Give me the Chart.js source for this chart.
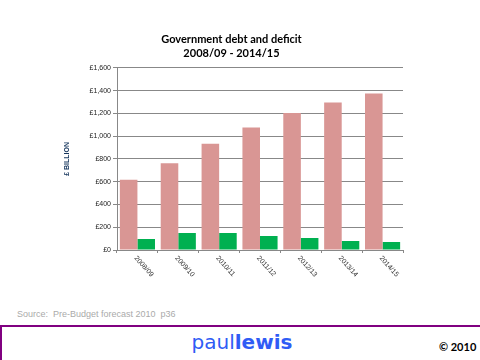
<!DOCTYPE html>
<html>
<head>
<meta charset="utf-8">
<script src="https://cdn.jsdelivr.net/npm/chart.js@4.4.1/dist/chart.umd.min.js"></script>
<style>
  body { margin: 0; width: 480px; height: 360px; position: relative; background: #fff; overflow: hidden; }
  #wrap { position: absolute; left: 0; top: 0; width: 480px; height: 300px; }
  #source { position: absolute; left: 17px; top: 309px; font: 9px "Liberation Sans", Arial, sans-serif; color: #aaa; white-space: pre; }
  #footer { position: absolute; left: 0; top: 325px; width: 480px; height: 40px; border-top: 2px solid #800080; border-left: 2px solid #800080; box-sizing: border-box; }
  #brand { position: absolute; left: 0; width: 480px; top: 3px; text-align: center; font: 20px "DejaVu Sans", Verdana, sans-serif; color: #2f5cf5; }
  #brand b { font-weight: bold; }
  #copy { position: absolute; left: 437px; top: 13px; font: bold 11px Lato, sans-serif; color: #000; }
</style>
</head>
<body>
<div id="wrap"><canvas id="myChart" width="480" height="300"></canvas></div>
<div id="source">Source:  Pre-Budget forecast 2010  p36</div>
<div id="footer">
  <div id="brand">paul<b>lewis</b></div>
  <div id="copy">© 2010</div>
</div>
<script>
//Chart data
const years = ["2008/09", "2009/10", "2010/11", "2011/12", "2012/13", "2013/14", "2014/15"];
const debt = [617, 763, 934, 1075, 1204, 1295, 1374];
const deficit = [97, 150, 150, 123, 106, 79, 70];
const yTicks = [0, 200, 400, 600, 800, 1000, 1200, 1400, 1600];

const ctx = document.getElementById("myChart");

//Draws the slanted year labels under each bar group
const slantLabels = {
  id: "slantLabels",
  afterDraw: function(chart) {
    const xs = chart.scales.x;
    const c = chart.ctx;
    c.save();
    c.font = "7px 'Liberation Sans', Arial, sans-serif";
    c.fillStyle = "#333";
    c.textAlign = "left";
    c.textBaseline = "middle";
    for(let i = 0; i < years.length; i++) {
      c.save();
      c.translate(xs.getPixelForValue(i) - 2, xs.top + 7);
      c.rotate(48 * Math.PI / 180);
      c.fillText(years[i], 0, 0);
      c.restore();
    }
    c.restore();
  }
};

new Chart(ctx, {
  type: "bar",
  data: {
    labels: years,
    datasets: [
      { label: "Debt", data: debt, backgroundColor: "#d99694", categoryPercentage: 0.86, barPercentage: 1.0 },
      { label: "Deficit", data: deficit, backgroundColor: "#00b050", categoryPercentage: 0.86, barPercentage: 1.0 }
    ]
  },
  options: {
    responsive: false,
    animation: false,
    layout: { padding: { left: 60, right: 77, top: 0, bottom: 0 } },
    plugins: {
      legend: { display: false },
      tooltip: { enabled: false },
      title: {
        display: true,
        text: ["Government debt and deficit", "2008/09 - 2014/15"],
        color: "#000",
        font: { family: "Lato", size: 11, weight: "bold", lineHeight: 1.22 },
        padding: { top: 33, bottom: 8 }
      }
    },
    scales: {
      x: {
        grid: { display: true, drawOnChartArea: false, drawTicks: true, tickLength: 3, color: "#888", offset: true },
        border: { display: true, color: "#888" },
        ticks: { callback: function() { return ""; } },
        afterFit: function(scale) { scale.height = 50; }
      },
      y: {
        min: 0,
        max: 1600,
        afterBuildTicks: function(scale) { scale.ticks = yTicks.map(v => ({ value: v })); },
        grid: { color: "#888", tickLength: 4, drawTicks: true },
        border: { display: true, color: "#888" },
        ticks: {
          color: "#222",
          padding: 2,
          font: { family: "Liberation Sans", size: 7 },
          callback: function(v) { return "£" + v.toLocaleString("en-GB"); }
        },
        title: {
          display: true,
          text: "£ BILLION",
          color: "#17375e",
          font: { family: "Liberation Sans", size: 7, weight: "bold" },
          padding: { top: 3, bottom: 0 }
        },
        afterFit: function(scale) { scale.width = 57; }
      }
    }
  },
  plugins: [slantLabels]
});
</script>
</body>
</html>
